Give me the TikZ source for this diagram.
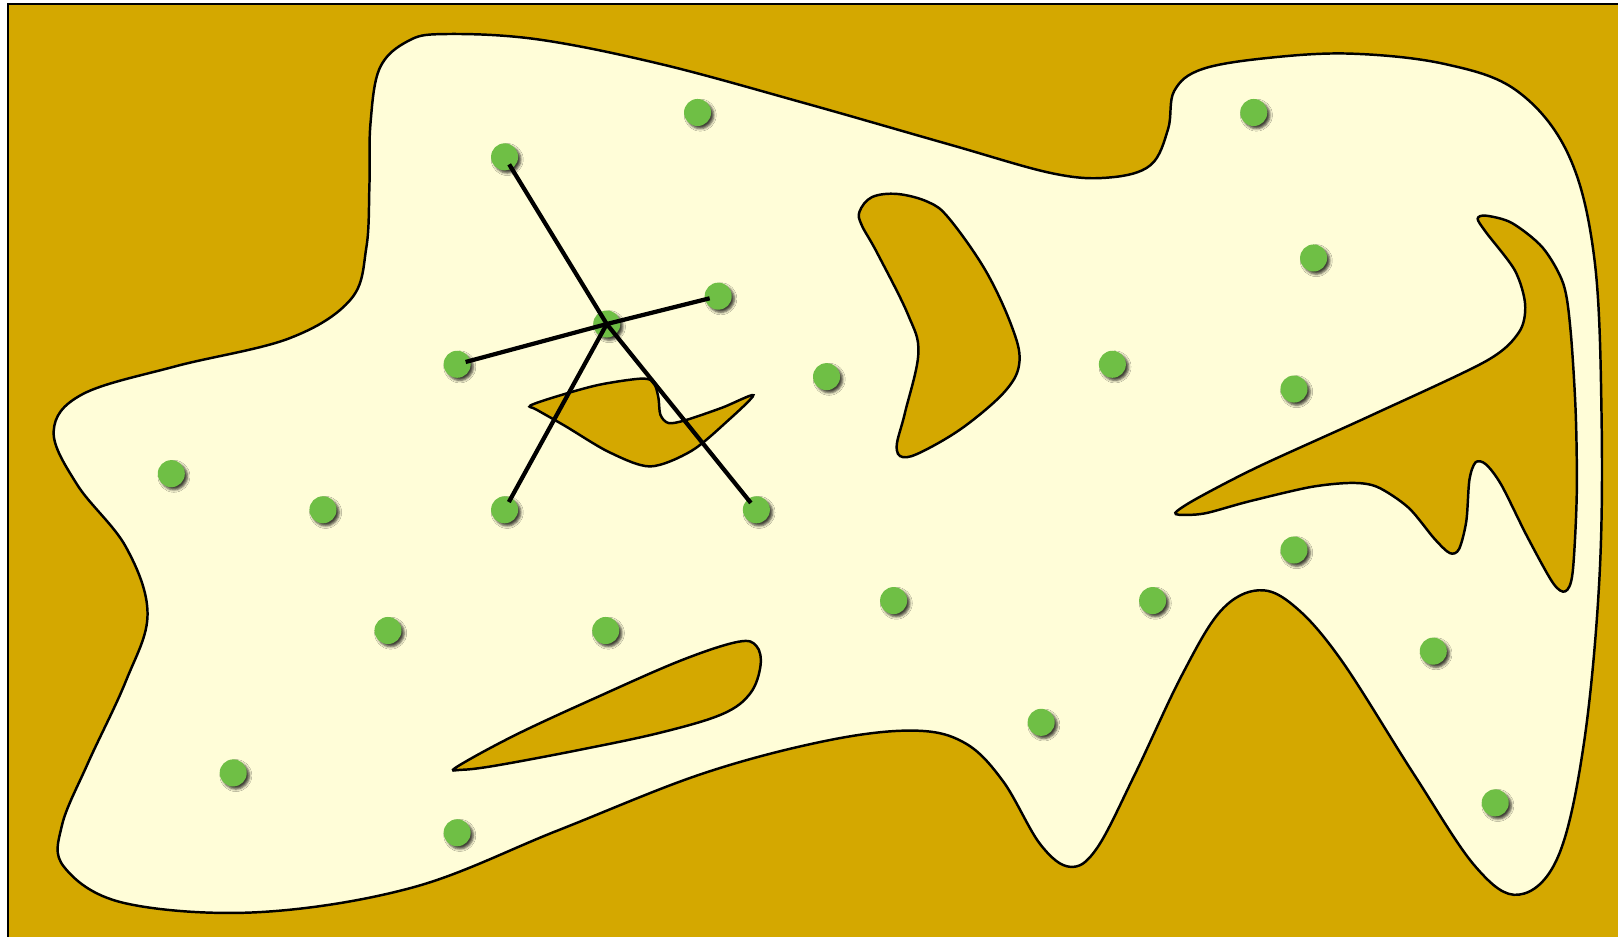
\documentclass[tikz,border=0pt]{standalone}
\usetikzlibrary{shadows.blur}
\definecolor{ground}{RGB}{212,168,0}
\definecolor{field}{RGB}{255,253,216}
\definecolor{dotgreen}{RGB}{111,191,69}
\tikzset{
    region/.style={fill=field, draw=black, line width=1.4pt},
    hole/.style={fill=ground, draw=black, line width=1.4pt},
    dot/.style={circle, fill=dotgreen, minimum size=0.54cm, inner sep=0pt,
        blur shadow={shadow xshift=1.5pt, shadow yshift=-1.5pt, shadow blur radius=1.4pt, shadow opacity=75}},
    spoke/.style={line width=2.4pt, shorten >=5pt},
}

\begin{document}
\begin{tikzpicture}[x=0.0206cm, y=-0.0206cm]
\useasboundingbox (0,0) rectangle (1568,908);
\clip (0,0) rectangle (1568,908);

% Ground
\draw[fill=ground, line width=1.4pt] (8,4) rectangle (1600,940);

% Free region
\draw[region] plot[smooth cycle, tension=0.6] coordinates {
    (430,33) (520,38) (640,62) (780,100) (920,140) (1020,168) (1075,172)
    (1115,160) (1132,125) (1138,88) (1165,67) (1230,56) (1310,52)
    (1400,62) (1470,88) (1520,150) (1545,250) (1552,400) (1550,560)
    (1535,720) (1510,830) (1472,867) (1430,840) (1370,750) (1300,640)
    (1255,588) (1220,572) (1183,592) (1145,655) (1100,750) (1063,822)
    (1037,840) (1008,818) (972,757) (935,720) (885,708) (800,718)
    (680,750) (540,805) (400,860) (250,884) (120,875) (62,840) (60,800)
    (85,740) (122,660) (143,595) (122,530) (75,470) (52,418) (80,382)
    (170,355) (280,328) (340,290) (355,240) (358,180) (359,120) (368,66)
    (395,40)};

% Obstacles
\draw[hole] plot[smooth cycle, tension=0.5] coordinates {
    (514,393) (540,384) (580,373) (620,367) (633,370) (638,385)
    (640,402) (648,410) (665,407) (700,395) (730,383) (705,408)
    (670,437) (630,452) (590,438) (548,413) (520,397)};
\draw[hole] plot[smooth cycle, tension=0.6] coordinates {
    (833,205) (845,191) (870,188) (900,196) (920,212) (955,262)
    (980,315) (988,350) (975,378) (935,413) (895,437) (875,443)
    (869,432) (877,400) (890,342) (880,305) (850,245) (835,218)};
\draw[hole] plot[smooth cycle, tension=0.6] coordinates {
    (443,743) (500,712) (580,675) (660,640) (715,622) (733,626)
    (737,645) (727,672) (700,692) (640,710) (560,727) (480,742)
    (447,746)};
\draw[hole] plot[smooth cycle, tension=0.5] coordinates {
    (1139,497) (1160,483) (1220,452) (1330,402) (1440,350) (1472,322)
    (1478,295) (1468,262) (1440,225) (1432,212) (1440,209) (1465,216)
    (1495,240) (1515,275) (1522,320) (1527,400) (1528,480) (1524,555)
    (1517,573) (1505,565) (1480,520) (1455,470) (1440,450) (1430,448)
    (1424,465) (1421,505) (1414,532) (1405,536) (1390,522) (1365,492)
    (1335,472) (1310,468) (1270,472) (1210,486) (1170,497) (1150,499)};

% Samples
\node[dot] (c) at (588,314) {};
\node[dot] (a1) at (489,152) {};
\node[dot] (a2) at (696,287) {};
\node[dot] (a3) at (443,353) {};
\node[dot] (a4) at (489,494) {};
\node[dot] (a5) at (733,494) {};
\node[dot] (s1) at (676,109) {};
\node[dot] (s2) at (1215,109) {};
\node[dot] (s3) at (1273,250) {};
\node[dot] (s4) at (801,365) {};
\node[dot] (s5) at (1078,353) {};
\node[dot] (s6) at (1254,377) {};
\node[dot] (s7) at (166,459) {};
\node[dot] (s8) at (313,494) {};
\node[dot] (s9) at (1254,533) {};
\node[dot] (s10) at (866,582) {};
\node[dot] (s11) at (1117,582) {};
\node[dot] (s12) at (376,611) {};
\node[dot] (s13) at (587,611) {};
\node[dot] (s14) at (1389,631) {};
\node[dot] (s15) at (1009,700) {};
\node[dot] (s16) at (226,749) {};
\node[dot] (s17) at (443,807) {};
\node[dot] (s18) at (1449,778) {};

% Edges
\draw[spoke] (c.center) -- (a1.center);
\draw[spoke] (c.center) -- (a2.center);
\draw[spoke] (c.center) -- (a3.center);
\draw[spoke] (c.center) -- (a4.center);
\draw[spoke] (c.center) -- (a5.center);

\end{tikzpicture}
\end{document}
